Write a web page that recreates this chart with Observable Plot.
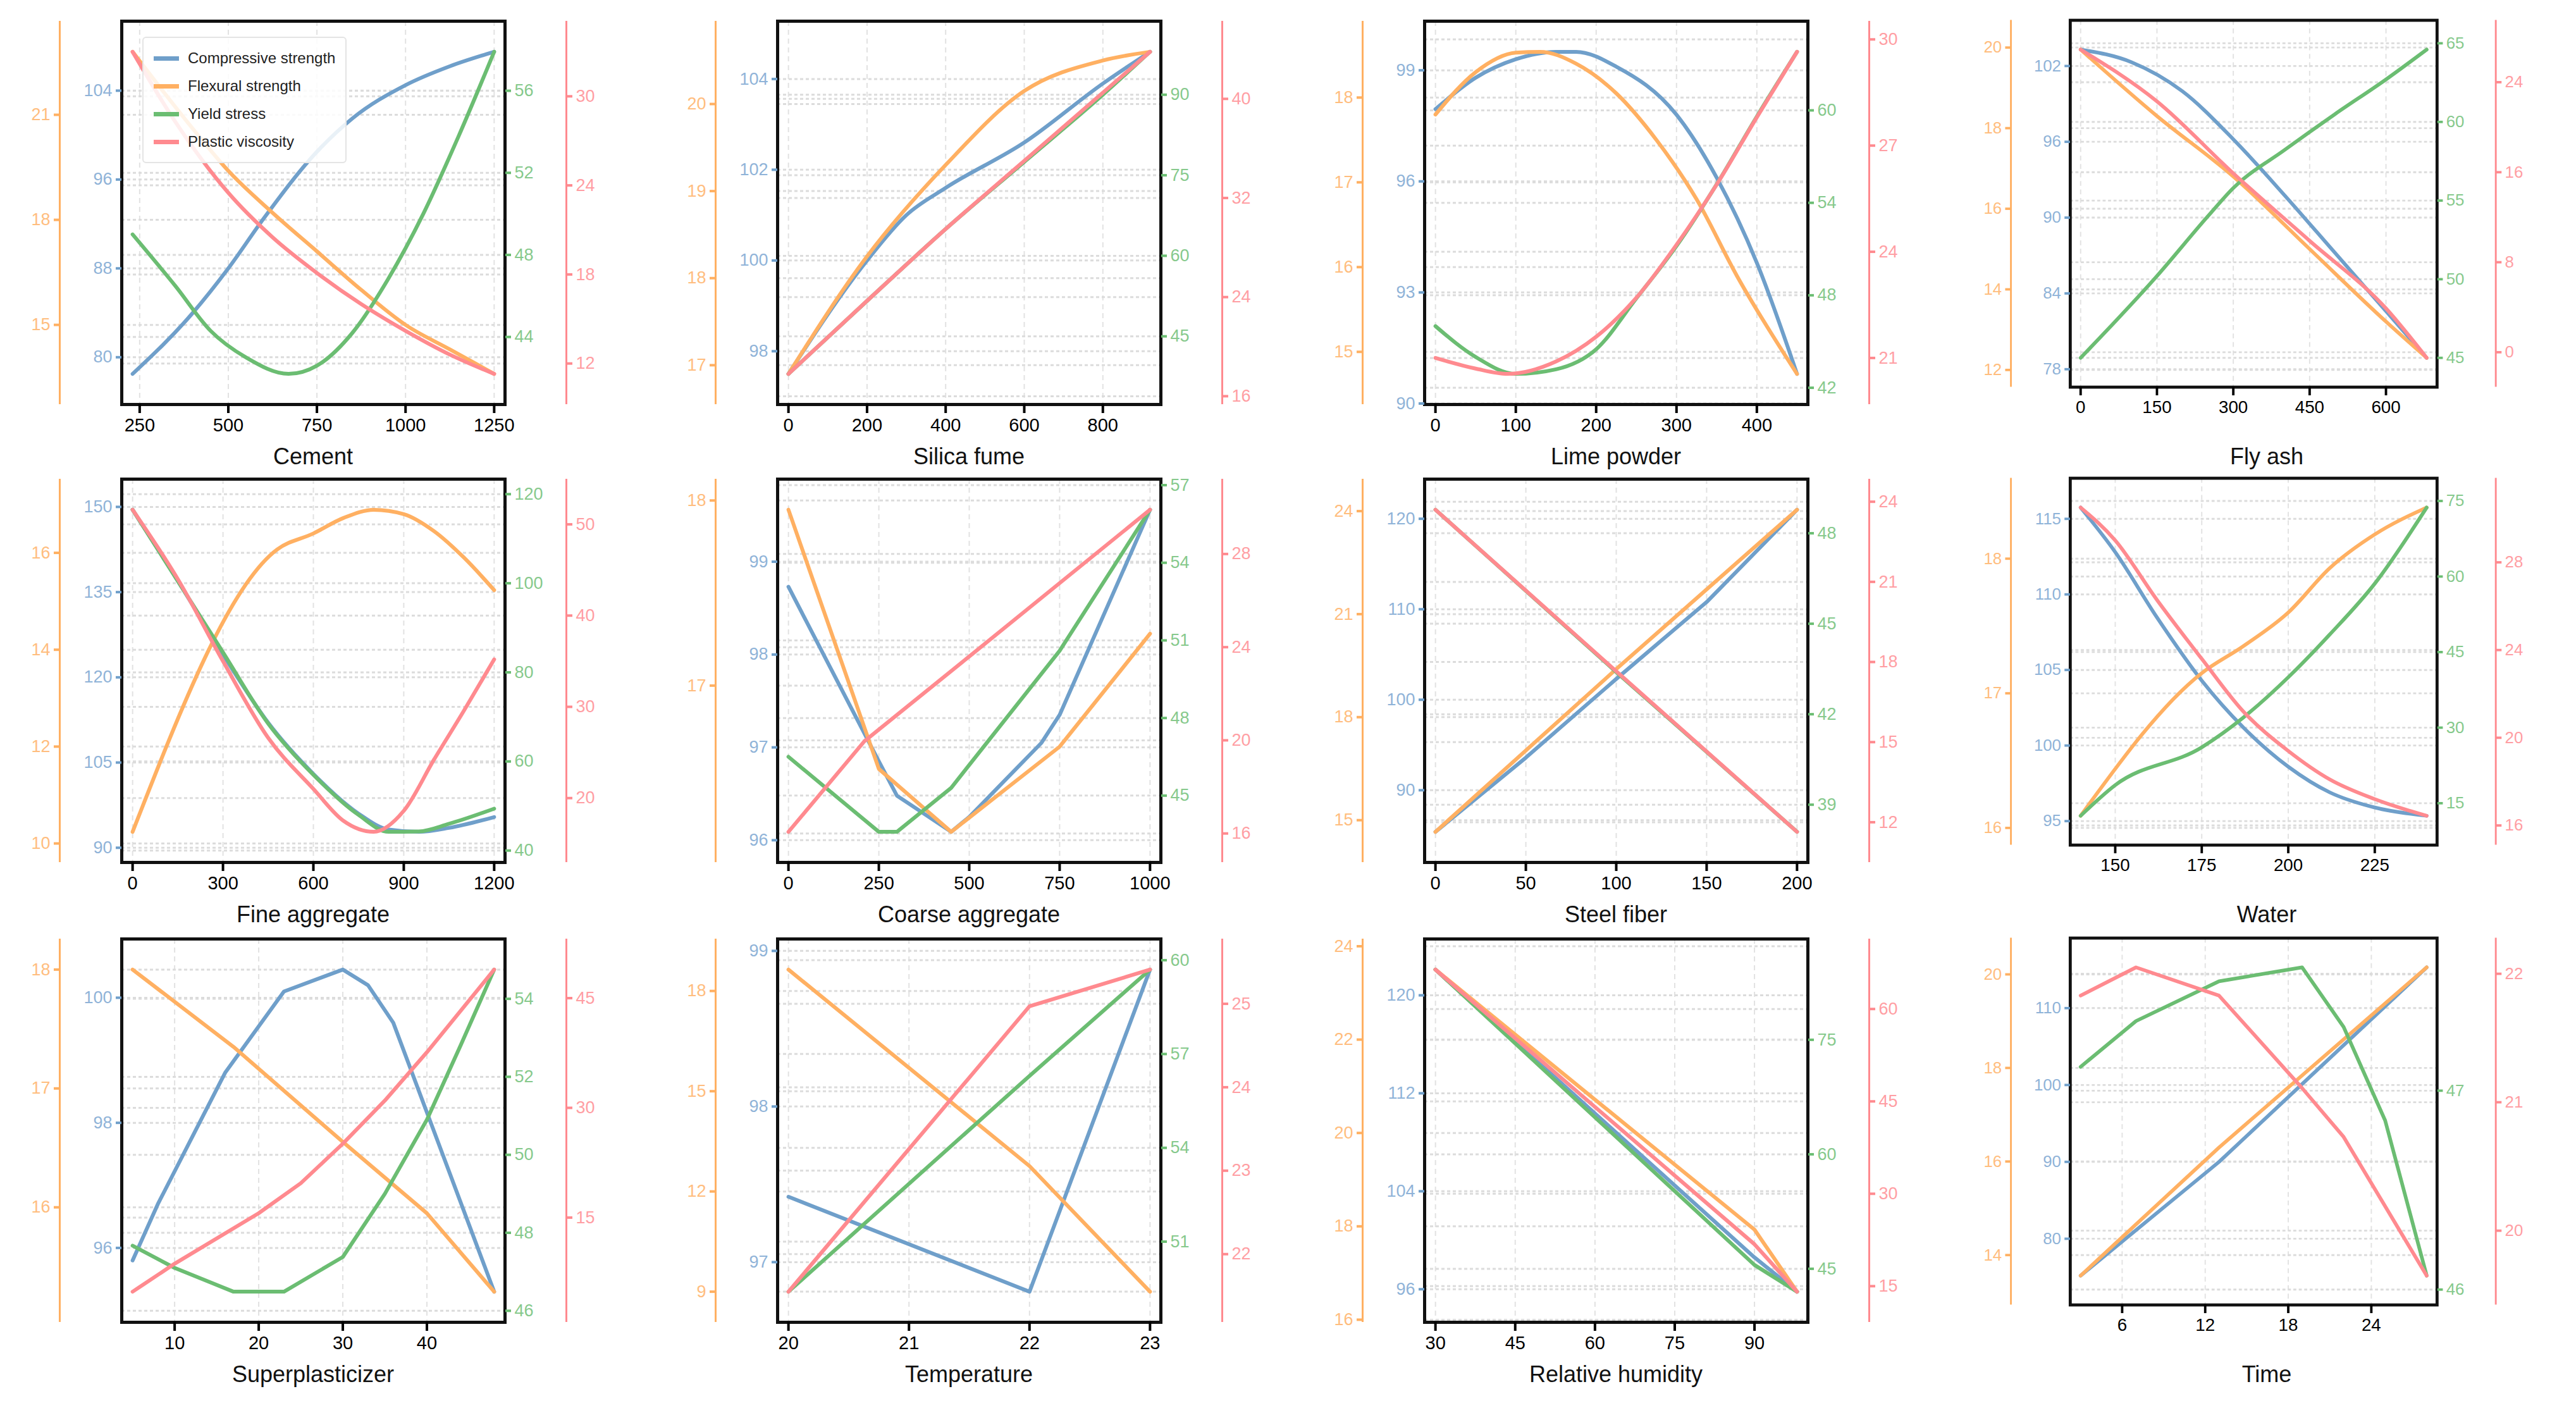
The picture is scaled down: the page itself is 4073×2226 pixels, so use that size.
<!DOCTYPE html>
<html><head><meta charset="utf-8">
<script src="https://cdn.jsdelivr.net/npm/d3@7"></script>
<script src="https://cdn.jsdelivr.net/npm/@observablehq/plot@0.6"></script>
<style>
body{margin:0;background:#fff;width:4073px;height:2226px;position:relative;overflow:hidden;font-family:"Liberation Sans",Arial,sans-serif}
.panel{position:absolute}
.xlab{position:absolute;font-size:36px;color:#111;text-align:center;width:606px}
.legend{position:absolute;background:rgba(255,255,255,0.85);border:2px solid #e4e4e4;border-radius:6px;padding:10px 16px;font-size:24px;color:#222}
.legend div{display:flex;align-items:center;height:44px}
.legend span{display:inline-block;width:40px;height:7px;margin-right:14px}
</style></head><body>
<script>
const names = ["Compressive strength","Flexural strength","Yield stress","Plastic viscosity"];
const colors = ["#6f9fca","#ffb062","#6bbd72","#ff8a8f"];
const labelColors = ["#8fb3d8","#ffbd7e","#86c98c","#ff9ea3"];

// ---- Panel data: [x, value] pairs per series ----
const cementBlue = [[230,78.5],[400,84],[500,88],[600,92.5],[750,98.5],[850,101.5],[1000,104.5],[1125,106.2],[1250,107.5]];
const cementOrange = [[230,22.8],[400,20.6],[500,19.4],[625,18.2],[750,17.1],[875,16.0],[1000,15.0],[1125,14.3],[1250,13.6]];
const cementGreen = [[230,49],[350,46.5],[450,44.3],[550,43],[670,42.2],[750,42.6],[850,44.2],[950,46.8],[1050,50],[1150,53.8],[1250,57.9]];
const cementRed = [[230,33],[350,28.3],[500,23.5],[625,20.5],[750,18.1],[875,16.0],[1000,14.2],[1125,12.6],[1250,11.3]];

const silicaBlue = [[0,97.5],[200,100],[300,101],[400,101.6],[600,102.6],[800,103.9],[920,104.6]];
const silicaOrange = [[0,16.9],[200,18.25],[400,19.3],[600,20.15],[800,20.5],[920,20.6]];
const silicaGreen = [[0,38],[200,51.6],[400,65],[600,77.5],[800,90],[920,98]];
const silicaRed = [[0,17.8],[200,23.7],[400,29.5],[600,35],[800,40.5],[920,43.8]];

const limeBlue = [[0,97.95],[50,98.8],[100,99.3],[150,99.5],[175,99.5],[225,99.1],[300,97.8],[350,96.1],[400,93.8],[450,90.8]];
const limeOrange = [[0,17.8],[50,18.3],[100,18.53],[130,18.54],[175,18.4],[225,18.05],[275,17.5],[325,16.8],[375,15.9],[450,14.74]];
const limeGreen = [[0,46],[50,44],[100,42.9],[150,43.2],[200,44.5],[250,47.8],[300,51.2],[350,55.2],[400,59.6],[450,63.8]];
const limeRed = [[0,21],[50,20.7],[90,20.55],[150,20.9],[200,21.6],[250,22.7],[300,24.2],[350,25.9],[400,27.8],[450,29.65]];

const flyBlue = [[0,103.3],[100,102.3],[200,100],[300,96.2],[400,91.8],[500,87.2],[600,82.6],[680,78.9]];
const flyOrange = [[0,19.95],[150,18.3],[300,16.8],[450,15.0],[600,13.2],[680,12.3]];
const flyGreen = [[0,45],[150,50.2],[250,54],[300,55.8],[400,58.2],[500,60.5],[600,62.7],[680,64.6]];
const flyRed = [[0,26.9],[150,22.3],[300,15.9],[450,9.9],[600,3.9],[680,-0.5]];

const fineBlue = [[0,149.5],[150,137],[300,124],[450,112],[600,103],[750,96],[850,93.2],[950,92.8],[1050,93.5],[1200,95.4]];
const fineOrange = [[0,10.24],[480,16.07],[600,16.4],[700,16.72],[800,16.89],[900,16.8],[1000,16.45],[1100,15.9],[1200,15.23]];
const fineGreen = [[0,116.5],[150,100.5],[300,84.5],[450,68.5],[600,57],[750,48],[850,44.2],[950,44.3],[1050,46],[1200,49.4]];
const fineRed = [[0,51.6],[150,44],[300,35],[450,26.6],[600,21],[700,17.5],[800,16.3],[900,18.6],[1000,24.2],[1100,29.6],[1200,35.2]];

const coarseBlue = [[0,98.73],[250,96.85],[300,96.48],[450,96.09],[500,96.25],[600,96.65],[700,97.05],[750,97.35],[1000,99.56]];
const coarseOrange = [[0,17.95],[250,16.55],[450,16.21],[750,16.67],[1000,17.28]];
const coarseGreen = [[0,46.5],[250,43.6],[300,43.6],[450,45.3],[750,50.6],[1000,56.05]];
const coarseRed = [[0,16.07],[210,19.96],[500,23.6],[1000,29.9]];

const steelBlue = [[0,85.4],[50,93.6],[100,102.3],[150,110.8],[200,121]];
const steelOrange = [[0,14.66],[100,19.4],[200,24.04]];
const steelGreen = [[0,48.78],[100,43.4],[200,38.1]];
const steelRed = [[0,23.7],[100,17.65],[200,11.64]];

const waterBlue = [[140,115.75],[150,112.8],[162,108.5],[175,104.3],[187,101.2],[200,98.6],[212,96.9],[225,95.9],[240,95.35]];
const waterOrange = [[140,16.09],[175,17.15],[187,17.35],[200,17.6],[212,17.93],[225,18.18],[240,18.38]];
const waterGreen = [[140,12.5],[150,18.6],[175,26.1],[187,32],[200,40],[212,48.5],[225,58.6],[240,73.7]];
const waterRed = [[140,30.5],[150,29],[162,26.3],[175,23.6],[187,21.2],[200,19.4],[212,18.1],[225,17.2],[240,16.44]];

const spBlue = [[5,95.8],[8,96.7],[16,98.8],[23,100.1],[30,100.45],[33,100.2],[36,99.6],[48,95.3]];
const spOrange = [[5,18.0],[17,17.35],[30,16.55],[40,15.95],[48,15.29]];
const spGreen = [[5,47.67],[10,47.1],[17,46.49],[23,46.49],[30,47.38],[35,49],[40,50.9],[44,52.8],[48,54.75]];
const spRed = [[5,4.87],[10,8.7],[20,15.6],[25,19.7],[30,25.1],[35,31],[40,37.6],[48,48.9]];

const tempBlue = [[20,97.42],[22,96.81],[23,98.88]];
const tempOrange = [[20,18.64],[22,12.76],[23,9.0]];
const tempGreen = [[20,49.4],[22,56.3],[23,59.7]];
const tempRed = [[20,21.55],[22,24.97],[23,25.41]];

const rhBlue = [[30,122.1],[90,98.6],[98,95.8]];
const rhOrange = [[30,23.5],[90,17.93],[98,16.6]];
const rhGreen = [[30,84.2],[90,45.5],[98,42.0]];
const rhRed = [[30,66.4],[90,21.8],[98,14.1]];

const timeBlue = [[3,75.2],[13,90],[28,115.3]];
const timeOrange = [[3,13.56],[13,16.3],[28,20.15]];
const timeGreen = [[3,47.12],[7,47.35],[13,47.55],[19,47.62],[22,47.32],[25,46.85],[28,46.07]];
const timeRed = [[3,21.83],[7,22.05],[13,21.83],[19,21.11],[22,20.73],[28,19.65]];

// ---- tick labels ----
const panels = [
 {label:"Cement", series:[cementBlue,cementOrange,cementGreen,cementRed], xTicks:[250,500,750,1000,1250], ticks:[[80,88,96,104],[15,18,21],[44,48,52,56],[12,18,24,30]], smooth:true},
 {label:"Silica fume", series:[silicaBlue,silicaOrange,silicaGreen,silicaRed], xTicks:[0,200,400,600,800], ticks:[[98,100,102,104],[17,18,19,20],[45,60,75,90],[16,24,32,40]], smooth:true},
 {label:"Lime powder", series:[limeBlue,limeOrange,limeGreen,limeRed], xTicks:[0,100,200,300,400], ticks:[[90,93,96,99],[15,16,17,18],[42,48,54,60],[21,24,27,30]], smooth:true},
 {label:"Fly ash", series:[flyBlue,flyOrange,flyGreen,flyRed], xTicks:[0,150,300,450,600], ticks:[[78,84,90,96,102],[12,14,16,18,20],[45,50,55,60,65],[0,8,16,24]], smooth:true},
 {label:"Fine aggregate", series:[fineBlue,fineOrange,fineGreen,fineRed], xTicks:[0,300,600,900,1200], ticks:[[90,105,120,135,150],[10,12,14,16],[40,60,80,100,120],[20,30,40,50]], smooth:true},
 {label:"Coarse aggregate", series:[coarseBlue,coarseOrange,coarseGreen,coarseRed], xTicks:[0,250,500,750,1000], ticks:[[96,97,98,99],[17,18],[45,48,51,54,57],[16,20,24,28]], smooth:false},
 {label:"Steel fiber", series:[steelBlue,steelOrange,steelGreen,steelRed], xTicks:[0,50,100,150,200], ticks:[[90,100,110,120],[15,18,21,24],[39,42,45,48],[12,15,18,21,24]], smooth:false},
 {label:"Water", series:[waterBlue,waterOrange,waterGreen,waterRed], xTicks:[150,175,200,225], ticks:[[95,100,105,110,115],[16,17,18],[15,30,45,60,75],[16,20,24,28]], smooth:true},
 {label:"Superplasticizer", series:[spBlue,spOrange,spGreen,spRed], xTicks:[10,20,30,40], ticks:[[96,98,100],[16,17,18],[46,48,50,52,54],[15,30,45]], smooth:false},
 {label:"Temperature", series:[tempBlue,tempOrange,tempGreen,tempRed], xTicks:[20,21,22,23], ticks:[[97,98,99],[9,12,15,18],[51,54,57,60],[22,23,24,25]], smooth:false},
 {label:"Relative humidity", series:[rhBlue,rhOrange,rhGreen,rhRed], xTicks:[30,45,60,75,90], ticks:[[96,104,112,120],[16,18,20,22,24],[45,60,75],[15,30,45,60]], smooth:false},
 {label:"Time", series:[timeBlue,timeOrange,timeGreen,timeRed], xTicks:[6,12,18,24], ticks:[[80,90,100,110],[14,16,18,20],[46,47],[20,21,22]], smooth:false},
];

const frameLefts = [192,1229,2252,3281];
const frameTops = [33,757,1484];
const FW = 606, FH = 606, ML = 190, MR = 230, MT = 33, MB = 88;
const PAD = 0.095, XPAD = 0.03;

panels.forEach((p, i) => {
  const col = i % 4, row = Math.floor(i / 4);
  const allX = p.series.flat().map(d => d[0]);
  const x0 = d3.min(allX), x1 = d3.max(allX), xr = x1 - x0;
  const xDom = [x0 - XPAD * xr, x1 + XPAD * xr];
  const scales = p.series.map(s => {
    const v0 = d3.min(s, d => d[1]), v1 = d3.max(s, d => d[1]), r = v1 - v0;
    return d3.scaleLinear().domain([v0 - PAD * r, v1 + PAD * r]).range([0, 1]);
  });
  const rows = [];
  p.series.forEach((s, k) => s.forEach(d => rows.push({k, x: d[0], y: scales[k](d[1])})));
  const tickSets = p.ticks.map((t, k) => t.map(v => ({v, y: scales[k](v)})).filter(d => d.y >= 0 && d.y <= 1));
  const allTickY = tickSets.flat();
  const marks = [
    Plot.ruleX(p.xTicks, {stroke: "#e2e2e2", strokeWidth: 2, strokeDasharray: "8,6"}),
    Plot.ruleY(allTickY, {y: "y", stroke: "#dcdcdc", strokeWidth: 3, strokeDasharray: "5,4"}),
  ];
  for (let k = 0; k < 4; k++) {
    marks.push(Plot.line(rows.filter(d => d.k === k), {x: "x", y: "y", stroke: colors[k], strokeWidth: 6, curve: p.smooth ? "monotone-x" : "linear"}));
  }
  marks.push(Plot.frame({stroke: "#111", strokeWidth: 5}));
  marks.push(Plot.ruleX([xDom[0]], {stroke: colors[1], strokeWidth: 3, dx: -98}));
  marks.push(Plot.ruleX([xDom[1]], {stroke: colors[3], strokeWidth: 3, dx: 97}));
  const fmt = (set) => (y) => { const d = set.find(t => Math.abs(t.y - y) < 1e-9); return d ? String(d.v) : ""; };
  const axisDefs = [
    {anchor: "left", dx: 0, k: 0},
    {anchor: "left", dx: -98, k: 1},
    {anchor: "right", dx: 0, k: 2},
    {anchor: "right", dx: 97, k: 3},
  ];
  axisDefs.forEach(a => {
    const set = tickSets[a.k];
    marks.push(Plot.axisY(set.map(d => d.y), {anchor: a.anchor, dx: a.dx, tickSize: 9, tickPadding: 6, stroke: colors[a.k], strokeWidth: 4, color: labelColors[a.k], fill: labelColors[a.k], tickFormat: fmt(set), fontSize: 27, label: null}));
  });
  marks.push(Plot.axisX(p.xTicks, {anchor: "bottom", tickSize: 14, tickPadding: 8, strokeWidth: 4, fontSize: 29, label: null, tickFormat: d => String(d)}));
  const svg = Plot.plot({
    width: ML + FW + MR, height: MT + FH + MB,
    marginLeft: ML, marginRight: MR, marginTop: MT, marginBottom: MB,
    x: {domain: xDom}, y: {domain: [0, 1], axis: null},
    style: {fontFamily: "Liberation Sans, Arial, sans-serif", background: "transparent", overflow: "visible"},
    marks
  });
  const div = document.createElement("div");
  div.className = "panel";
  div.style.left = (frameLefts[col] - ML) + "px";
  div.style.top = (frameTops[row] - MT) + "px";
  div.appendChild(svg);
  document.body.appendChild(div);
  const lab = document.createElement("div");
  lab.className = "xlab";
  lab.textContent = p.label;
  lab.style.left = frameLefts[col] + "px";
  lab.style.top = (frameTops[row] + FH + 62) + "px";
  document.body.appendChild(lab);
});

const leg = document.createElement("div");
leg.className = "legend";
leg.style.left = "225px"; leg.style.top = "58px";
names.forEach((n, k) => {
  const r = document.createElement("div");
  r.innerHTML = `<span style="background:${colors[k]}"></span>${n}`;
  leg.appendChild(r);
});
document.body.appendChild(leg);
</script>
</body></html>
